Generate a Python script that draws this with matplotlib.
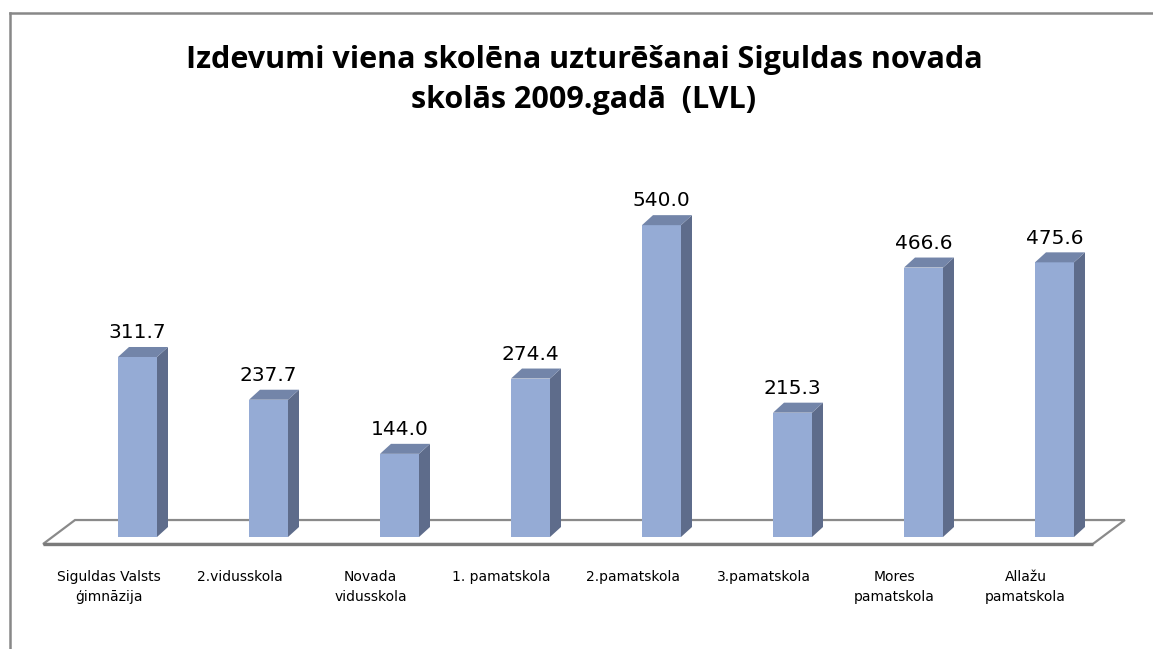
import numpy as np
import matplotlib
matplotlib.use('Agg')
import matplotlib.pyplot as plt
from matplotlib.patches import Rectangle, Polygon
from matplotlib.lines import Line2D

#chart data -----------------------------------
schools = ['Siguldas Valsts\nģimnāzija', '2.vidusskola', 'Novada\nvidusskola',
           '1. pamatskola', '2.pamatskola', '3.pamatskola',
           'Mores\npamatskola', 'Allažu\npamatskola']
costs = [311.7, 237.7, 144.0, 274.4, 540.0, 215.3, 466.6, 475.6]
title = 'Izdevumi viena skolēna uzturēšanai Siguldas novada\nskolās 2009.gadā  (LVL)'

#style ----------------------------------------
c_front = '#95abd5'
c_side = '#5e6c8b'
c_top = '#7385a9'
c_floor = '#8a8a8a'

W, H = 1153, 649
fig = plt.figure(figsize=(W/100., H/100.), dpi=100)
ax = fig.add_axes([0, 0, 1, 1])

# axis scale: 131 px per category, 0.5775 px per LVL, zero at y=537
pxcat = 131.
pxval = 0.5775
x0, y0 = 137.5, 537.
ax.set_xlim(-x0/pxcat, (W - x0)/pxcat)
ax.set_ylim(-(H - y0)/pxval, y0/pxval)
ax.axis('off')

w = 39./pxcat      # bar width
dx = 11./pxcat     # depth offset x
dy = 10./pxval     # depth offset y

# floor (parallelogram)
n = len(costs)
fl_front = -12.1
fl_back = 29.4
fl_l = -0.721
fl_r = (n - 1) + 0.293
fl_shift = 0.244
floor = Polygon([(fl_l, fl_front), (fl_l + fl_shift, fl_back),
                 (fl_r + fl_shift, fl_back), (fl_r, fl_front)],
                closed=True, facecolor='white', edgecolor=c_floor, lw=1.6, zorder=1)
ax.add_patch(floor)
ax.plot([fl_l, fl_r], [fl_front, fl_front], color='#7a7a7a', lw=2.4, zorder=1.5,
        solid_capstyle='butt')

# bars
for i, v in enumerate(costs):
    l, r = i - w/2, i + w/2
    ax.add_patch(Rectangle((l, 0), w, v, facecolor=c_front, edgecolor='none', zorder=3))
    ax.add_patch(Polygon([(r, 0), (r + dx, dy), (r + dx, v + dy), (r, v)],
                         closed=True, facecolor=c_side, edgecolor='none', zorder=3))
    ax.add_patch(Polygon([(l, v), (l + dx, v + dy), (r + dx, v + dy), (r, v)],
                         closed=True, facecolor=c_top, edgecolor='none', zorder=3))
    ax.annotate('%.1f' % v, (i, v), xytext=(0, 13.5), textcoords='offset points',
                ha='center', va='baseline', fontsize=14.5, color='black',
                family='DejaVu Sans')
    ax.annotate(schools[i], (i - 0.22, fl_front), xytext=(0, -19),
                textcoords='offset points', ha='center', va='top',
                fontsize=10, linespacing=1.55, family='DejaVu Sans')

# title
fig.text(584./W, 1 - 45./H, title, ha='center', va='top', fontsize=22,
         fontweight='bold', family=['Open Sans', 'DejaVu Sans'], linespacing=1.45)

# frame lines
fig.add_artist(Line2D([9.5/W, 9.5/W], [0, 1 - 12.5/H], color='#888888', lw=1.8))
fig.add_artist(Line2D([9.5/W, 1], [1 - 12.5/H, 1 - 12.5/H], color='#888888', lw=1.8))

fig.savefig('out.png', dpi=100)
